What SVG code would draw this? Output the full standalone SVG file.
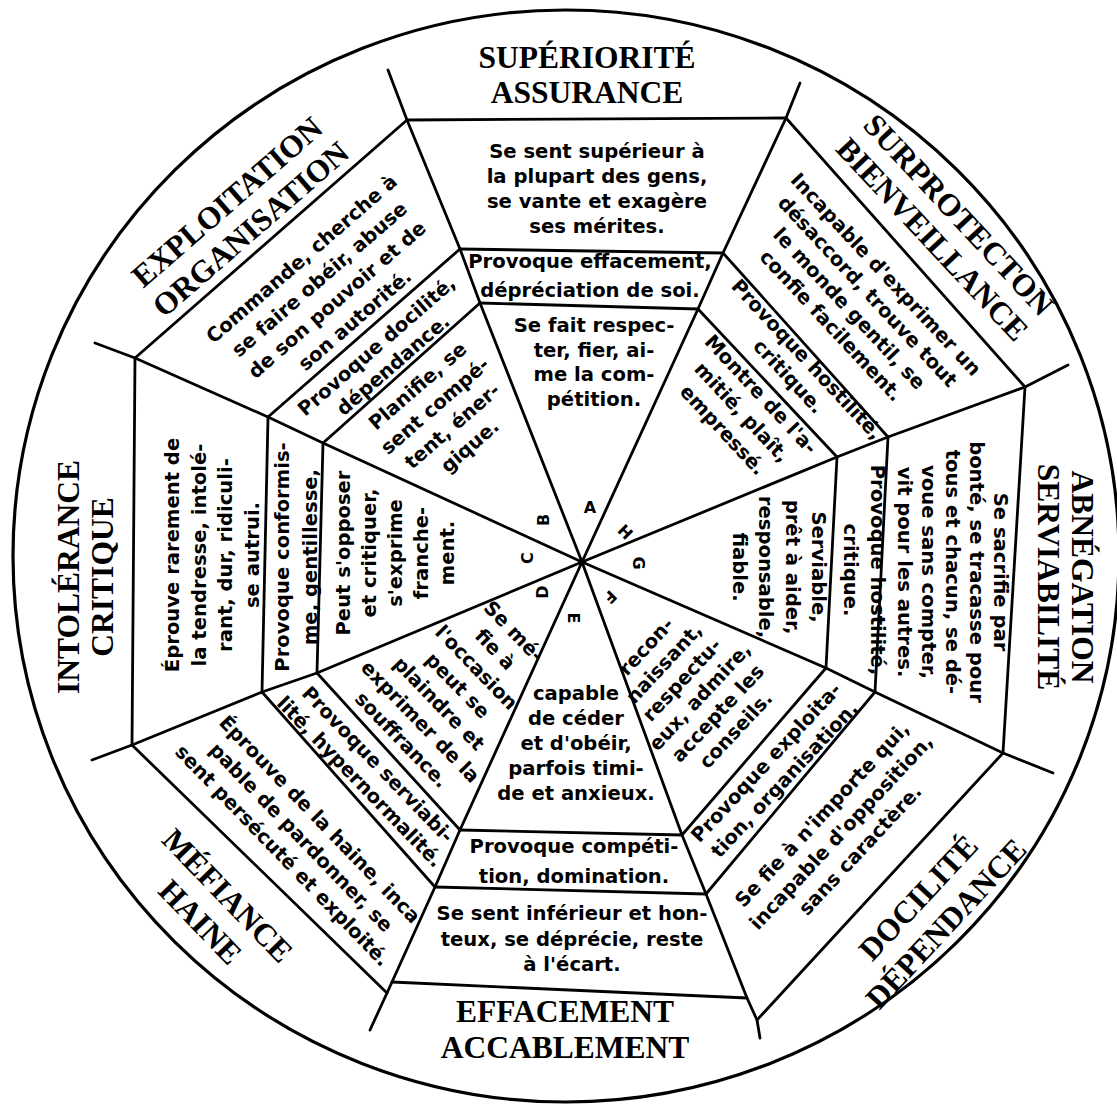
<svg xmlns="http://www.w3.org/2000/svg" width="1117" height="1104" viewBox="0 0 1117 1104">
<style>
.ln{fill:none;stroke:#000;stroke-width:2.8;stroke-linecap:round;stroke-linejoin:round}
.rim{fill:none;stroke:#000;stroke-width:3.2}
.lb{font-family:"Liberation Serif","Times New Roman",serif;font-weight:bold;font-size:31.5px;text-anchor:middle;fill:#000}
.t{font-family:"DejaVu Sans","Liberation Sans",sans-serif;font-weight:bold;font-size:19.6px;text-anchor:middle;fill:#000}
.k{font-family:"DejaVu Sans","Liberation Sans",sans-serif;font-weight:bold;font-size:16px;text-anchor:middle;dominant-baseline:central;fill:#000}
</style>
<rect x="0" y="0" width="1117" height="1104" fill="#fff"/>
<g id="connectors">
<ellipse class="rim" cx="566" cy="556" rx="553" ry="546"/>
<polyline class="ln" points="582,562 480,303 460,249 407,120 388,70"/>
<polyline class="ln" points="582,562 698,309 723,253 786,118 800,83"/>
<polyline class="ln" points="582,562 837,457 888,437 1025,387 1068,365"/>
<polyline class="ln" points="582,562 826,668 875,692 1003,753 1053,773"/>
<polyline class="ln" points="582,562 682,835 706,894 747,998 757,1020 760,1038"/>
<polyline class="ln" points="582,562 460,830 435,887 392,982 387,993 370,1030"/>
<polyline class="ln" points="582,562 317,673 262,692 132,745 92,760"/>
<polyline class="ln" points="582,562 323,443 268,417 135,358 95,343"/>
<line class="ln" x1="480" y1="303" x2="698" y2="309"/>
<line class="ln" x1="460" y1="249" x2="723" y2="253"/>
<line class="ln" x1="407" y1="120" x2="786" y2="118"/>
<line class="ln" x1="698" y1="309" x2="837" y2="457"/>
<line class="ln" x1="723" y1="253" x2="888" y2="437"/>
<line class="ln" x1="786" y1="118" x2="1025" y2="387"/>
<line class="ln" x1="837" y1="457" x2="826" y2="668"/>
<line class="ln" x1="888" y1="437" x2="875" y2="692"/>
<line class="ln" x1="1025" y1="387" x2="1003" y2="753"/>
<line class="ln" x1="826" y1="668" x2="682" y2="835"/>
<line class="ln" x1="875" y1="692" x2="706" y2="894"/>
<line class="ln" x1="1003" y1="753" x2="757" y2="1020"/>
<line class="ln" x1="460" y1="830" x2="682" y2="835"/>
<line class="ln" x1="435" y1="887" x2="706" y2="894"/>
<line class="ln" x1="392" y1="982" x2="747" y2="998"/>
<line class="ln" x1="317" y1="673" x2="460" y2="830"/>
<line class="ln" x1="262" y1="692" x2="435" y2="887"/>
<line class="ln" x1="132" y1="745" x2="387" y2="993"/>
<line class="ln" x1="323" y1="443" x2="317" y2="673"/>
<line class="ln" x1="268" y1="417" x2="262" y2="692"/>
<line class="ln" x1="135" y1="358" x2="132" y2="745"/>
<line class="ln" x1="480" y1="303" x2="323" y2="443"/>
<line class="ln" x1="460" y1="249" x2="268" y2="417"/>
<line class="ln" x1="407" y1="120" x2="135" y2="358"/>
</g>
<g id="sector-A">
<text class="lb" transform="translate(587,68)"><tspan x="0">SUPÉRIORITÉ</tspan><tspan x="0" dy="35">ASSURANCE</tspan></text>
<text class="t" transform="translate(597,158)"><tspan x="0">Se sent supérieur à</tspan><tspan x="0" dy="25">la plupart des gens,</tspan><tspan x="0" dy="25">se vante et exagère</tspan><tspan x="0" dy="25">ses mérites.</tspan></text>
<text class="t" transform="translate(590,268)"><tspan x="0">Provoque effacement,</tspan><tspan x="0" dy="29">dépréciation de soi.</tspan></text>
<text class="t" transform="translate(594,332)"><tspan x="0">Se fait respec-</tspan><tspan x="0" dy="24.5">ter, fier, ai-</tspan><tspan x="0" dy="24.5">me la com-</tspan><tspan x="0" dy="24.5">pétition.</tspan></text>
<text class="k" x="590" y="507">A</text>
</g>
<g id="sector-H">
<text class="lb" transform="translate(951,222) rotate(47)"><tspan x="0">SURPROTECTON</tspan><tspan x="0" dy="36">BIENVEILLANCE</tspan></text>
<text class="t" transform="translate(881,279) rotate(47)"><tspan x="0">Incapable d'exprimer un</tspan><tspan x="0" dy="25">désaccord, trouve tout</tspan><tspan x="0" dy="25">le monde gentil, se</tspan><tspan x="0" dy="25">confie facilement.</tspan></text>
<text class="t" transform="translate(802,364) rotate(47)"><tspan x="0">Provoque hostilité,</tspan><tspan x="0" dy="25">critique.</tspan></text>
<text class="t" transform="translate(756,399) rotate(47)"><tspan x="0">Montre de l'a-</tspan><tspan x="0" dy="26">mitié, plaît,</tspan><tspan x="0" dy="26">empressé.</tspan></text>
<text class="k" transform="translate(625,532) rotate(45)">H</text>
</g>
<g id="sector-G">
<text class="lb" transform="translate(1072,577) rotate(90)"><tspan x="0">ABNÉGATION</tspan><tspan x="0" dy="34">SERVIABILITÉ</tspan></text>
<text class="t" transform="translate(994,572) rotate(90)"><tspan x="0">Se sacrifie par</tspan><tspan x="0" dy="24">bonté, se tracasse pour</tspan><tspan x="0" dy="24">tous et chacun, se dé-</tspan><tspan x="0" dy="24">voue sans compter,</tspan><tspan x="0" dy="24">vit pour les autres.</tspan></text>
<text class="t" transform="translate(871,570) rotate(90)"><tspan x="0">Provoque hostilité,</tspan><tspan x="0" dy="27">critique.</tspan></text>
<text class="t" transform="translate(812,567) rotate(90)"><tspan x="0">Serviable,</tspan><tspan x="0" dy="26.3">prêt à aider,</tspan><tspan x="0" dy="26.3">responsable,</tspan><tspan x="0" dy="26.3">fiable.</tspan></text>
<text class="k" transform="translate(638,563) rotate(90)">G</text>
</g>
<g id="sector-F">
<text class="lb" transform="translate(926,905) rotate(-47)"><tspan x="0">DOCILITÉ</tspan><tspan x="0" dy="38">DÉPENDANCE</tspan></text>
<text class="t" transform="translate(827,819) rotate(-47)"><tspan x="0">Se fie à n'importe qui,</tspan><tspan x="0" dy="26">incapable d'opposition,</tspan><tspan x="0" dy="26">sans caractère.</tspan></text>
<text class="t" transform="translate(771,767) rotate(-47)"><tspan x="0">Provoque exploita-</tspan><tspan x="0" dy="25">tion, organisation.</tspan></text>
<text class="t" transform="translate(651,651) rotate(-47)"><tspan x="0">recon-</tspan><tspan x="0" dy="24.5">naissant,</tspan><tspan x="0" dy="24.5">respectu-</tspan><tspan x="0" dy="24.5">eux, admire,</tspan><tspan x="0" dy="24.5">accepte les</tspan><tspan x="0" dy="24.5">conseils.</tspan></text>
<text class="k" transform="translate(610,597) rotate(135)">F</text>
</g>
<g id="sector-E">
<text class="lb" transform="translate(565,1022)"><tspan x="0">EFFACEMENT</tspan><tspan x="0" dy="36">ACCABLEMENT</tspan></text>
<text class="t" transform="translate(572,920)"><tspan x="0">Se sent inférieur et hon-</tspan><tspan x="0" dy="25.5">teux, se déprécie, reste</tspan><tspan x="0" dy="25.5">à l'écart.</tspan></text>
<text class="t" transform="translate(574,853)"><tspan x="0">Provoque compéti-</tspan><tspan x="0" dy="30">tion, domination.</tspan></text>
<text class="t" transform="translate(576,700)"><tspan x="0">capable</tspan><tspan x="0" dy="25">de céder</tspan><tspan x="0" dy="25">et d'obéir,</tspan><tspan x="0" dy="25">parfois timi-</tspan><tspan x="0" dy="25">de et anxieux.</tspan></text>
<text class="k" transform="translate(573,618) rotate(90)">E</text>
</g>
<g id="sector-D">
<text class="lb" transform="translate(220,903) rotate(46)"><tspan x="0">MÉFIANCE</tspan><tspan x="0" dy="38">HAINE</tspan></text>
<text class="t" transform="translate(315,824) rotate(46)"><tspan x="0">Éprouve de la haine, inca</tspan><tspan x="0" dy="26">pable de pardonner, se</tspan><tspan x="0" dy="26">sent persécuté et exploité.</tspan></text>
<text class="t" transform="translate(373,769) rotate(46)"><tspan x="0">Provoque serviabi-</tspan><tspan x="0" dy="25">lité, hypernormalité.</tspan></text>
<text class="t" transform="translate(509,636) rotate(46)"><tspan x="0">Se mé-</tspan><tspan x="0" dy="26">fie à</tspan><tspan x="0" dy="26">l'occasion</tspan><tspan x="0" dy="26">peut se</tspan><tspan x="0" dy="26">plaindre et</tspan><tspan x="0" dy="26">exprimer de la</tspan><tspan x="0" dy="26">souffrance.</tspan></text>
<text class="k" transform="translate(542,592) rotate(-90)">D</text>
</g>
<g id="sector-C">
<text class="lb" transform="translate(79,577) rotate(-90)"><tspan x="0">INTOLÉRANCE</tspan><tspan x="0" dy="34">CRITIQUE</tspan></text>
<text class="t" transform="translate(179,555) rotate(-90)"><tspan x="0">Éprouve rarement de</tspan><tspan x="0" dy="26.5">la tendresse, intolé-</tspan><tspan x="0" dy="26.5">rant, dur, ridiculi-</tspan><tspan x="0" dy="26.5">se autrui.</tspan></text>
<text class="t" transform="translate(289,557) rotate(-90)"><tspan x="0">Provoque conformis-</tspan><tspan x="0" dy="28">me, gentillesse,</tspan></text>
<text class="t" transform="translate(350,553) rotate(-90)"><tspan x="0">Peut s'opposer</tspan><tspan x="0" dy="26">et critiquer,</tspan><tspan x="0" dy="26">s'exprime</tspan><tspan x="0" dy="26">franche-</tspan><tspan x="0" dy="26">ment.</tspan></text>
<text class="k" transform="translate(527,558) rotate(-90)">C</text>
</g>
<g id="sector-B">
<text class="lb" transform="translate(234,210) rotate(-41)"><tspan x="0">EXPLOITATION</tspan><tspan x="0" dy="36">ORGANISATION</tspan></text>
<text class="t" transform="translate(306,264) rotate(-41)"><tspan x="0">Commande, cherche à</tspan><tspan x="0" dy="27">se faire obéir, abuse</tspan><tspan x="0" dy="27">de son pouvoir et de</tspan><tspan x="0" dy="27">son autorité.</tspan></text>
<text class="t" transform="translate(381,351) rotate(-41)"><tspan x="0">Provoque docilité,</tspan><tspan x="0" dy="25">dépendance.</tspan></text>
<text class="t" transform="translate(422,391) rotate(-41)"><tspan x="0">Planifie, se</tspan><tspan x="0" dy="26.5">sent compé-</tspan><tspan x="0" dy="26.5">tent, éner-</tspan><tspan x="0" dy="26.5">gique.</tspan></text>
<text class="k" transform="translate(543,520) rotate(-90)">B</text>
</g>
</svg>
